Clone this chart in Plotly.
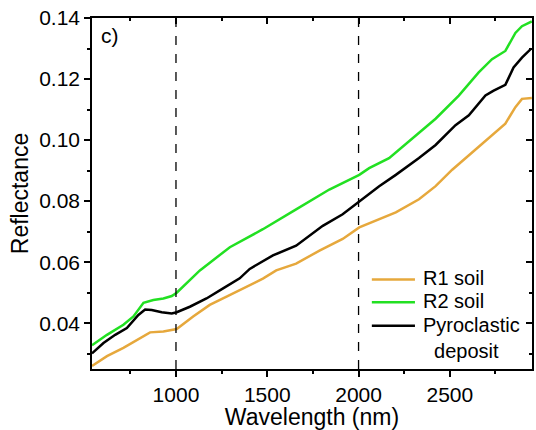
import plotly.graph_objects as go

# Wavelength (nm) / reflectance readings
r1_wl = [540, 622, 712, 786, 858, 931, 1004, 1094, 1185, 1277, 1349, 1476, 1549, 1658, 1786, 1913, 2004, 2113, 2204, 2331, 2422, 2513, 2586, 2695, 2804, 2859, 2895, 2949]
r1_ref = [0.0260, 0.0292, 0.0319, 0.0346, 0.0370, 0.0373, 0.0381, 0.0422, 0.0460, 0.0487, 0.0508, 0.0546, 0.0573, 0.0595, 0.0638, 0.0676, 0.0714, 0.0741, 0.0763, 0.0806, 0.0849, 0.0903, 0.0941, 0.1000, 0.1054, 0.1108, 0.1135, 0.1138]

r2_wl = [540, 622, 712, 767, 822, 876, 931, 977, 1004, 1058, 1131, 1295, 1476, 1658, 1840, 2004, 2058, 2167, 2313, 2422, 2549, 2658, 2731, 2804, 2859, 2895, 2949]
r2_ref = [0.0328, 0.0362, 0.0395, 0.0422, 0.0467, 0.0476, 0.0481, 0.0489, 0.0500, 0.0530, 0.0573, 0.0649, 0.0708, 0.0773, 0.0838, 0.0886, 0.0908, 0.0941, 0.1016, 0.1070, 0.1146, 0.1222, 0.1265, 0.1292, 0.1351, 0.1373, 0.1389]

pyro_wl = [540, 603, 667, 731, 794, 831, 867, 922, 977, 1004, 1076, 1167, 1258, 1349, 1404, 1531, 1658, 1804, 1913, 2004, 2113, 2204, 2331, 2422, 2531, 2604, 2695, 2740, 2804, 2849, 2895, 2946]
pyro_ref = [0.0301, 0.0335, 0.0362, 0.0384, 0.0427, 0.0445, 0.0443, 0.0436, 0.0432, 0.0436, 0.0454, 0.0481, 0.0514, 0.0547, 0.0578, 0.0622, 0.0654, 0.0719, 0.0757, 0.0800, 0.0849, 0.0886, 0.0941, 0.0984, 0.1049, 0.1081, 0.1146, 0.1162, 0.1181, 0.1238, 0.1270, 0.1300]

series_names = ["R1 soil", "R2 soil", "Pyroclastic<br>\u00a0\u00a0deposit"]
series_colors = ["#E6A83C", "#22E022", "#000000"]
vlines = [1000, 2000]
x_range = [540, 2950]
y_range = [0.025, 0.14]

FONT = "Liberation Sans, Arial, sans-serif"

fig = go.Figure()
for wl, ref, name, col in zip([r1_wl, r2_wl, pyro_wl], [r1_ref, r2_ref, pyro_ref],
                              series_names, series_colors):
    fig.add_trace(go.Scatter(x=wl, y=ref, mode="lines",
                             name=name.replace("<br>", " ").replace("\u00a0", ""),
                             line=dict(color=col, width=2.5), showlegend=False))
# invisible trace to activate the mirrored (inside-tick) axes
fig.add_trace(go.Scatter(x=r2_wl, y=r2_ref, xaxis="x2", yaxis="y2", mode="lines",
                         line=dict(width=0), opacity=0, showlegend=False, hoverinfo="skip"))

for v in vlines:
    fig.add_shape(type="line", x0=v, x1=v, y0=0, y1=1, xref="x", yref="paper",
                  line=dict(color="black", width=1.3, dash="dash"))

# legend drawn in the plot area (paper coordinates)
leg_x0, leg_x1, leg_tx = 0.636, 0.734, 0.748
leg_rows = [0.255, 0.190, 0.123]
half_line = 0.040  # from first-line centre to box top
for name, col, yy in zip(series_names, series_colors, leg_rows):
    fig.add_shape(type="line", x0=leg_x0, x1=leg_x1, y0=yy, y1=yy, xref="paper", yref="paper",
                  line=dict(color=col, width=2.5))
    fig.add_annotation(text=name, x=leg_tx, y=yy + half_line, align="left",
                       xref="paper", yref="paper", xanchor="left", yanchor="top",
                       showarrow=False, font=dict(size=20, family=FONT, color="black"))

fig.add_annotation(text="c)", x=0.015, y=0.99, xref="paper", yref="paper",
                   xanchor="left", yanchor="top", showarrow=False,
                   font=dict(size=21, family=FONT, color="black"))

axis_common = dict(showline=True, linecolor="black", linewidth=1.5, showgrid=False,
                   zeroline=False)

fig.update_layout(
    width=536, height=430,
    margin=dict(l=92, r=4, t=18, b=57),
    plot_bgcolor="white", paper_bgcolor="white",
    font=dict(family=FONT, color="black", size=20),
    showlegend=False,
    xaxis=dict(range=x_range, tick0=0, dtick=500, ticks="outside", ticklen=6, tickwidth=1.5,
               tickcolor="black", tickfont=dict(size=21),
               minor=dict(dtick=250, ticks="outside", ticklen=3, tickwidth=1.5, tickcolor="black"),
               title=dict(text="Wavelength (nm)", font=dict(size=23), standoff=4),
               **axis_common),
    yaxis=dict(range=y_range, tick0=0, dtick=0.02, tickformat=".2f", ticks="outside", ticklen=6,
               tickwidth=1.5, tickcolor="black", tickfont=dict(size=21),
               minor=dict(dtick=0.01, ticks="outside", ticklen=3, tickwidth=1.5, tickcolor="black"),
               title=dict(text="Reflectance", font=dict(size=23), standoff=4),
               **axis_common),
    xaxis2=dict(range=x_range, overlaying="x", side="top", anchor="y2", tick0=0, dtick=500,
                ticks="inside", ticklen=6, tickwidth=1.5, tickcolor="black", showticklabels=False,
                minor=dict(dtick=250, ticks="inside", ticklen=3, tickwidth=1.5, tickcolor="black"),
                **axis_common),
    yaxis2=dict(range=y_range, overlaying="y", side="right", anchor="x2", tick0=0, dtick=0.02,
                ticks="inside", ticklen=6, tickwidth=1.5, tickcolor="black", showticklabels=False,
                minor=dict(dtick=0.01, ticks="inside", ticklen=3, tickwidth=1.5, tickcolor="black"),
                **axis_common),
)

fig.write_html("out.html")
